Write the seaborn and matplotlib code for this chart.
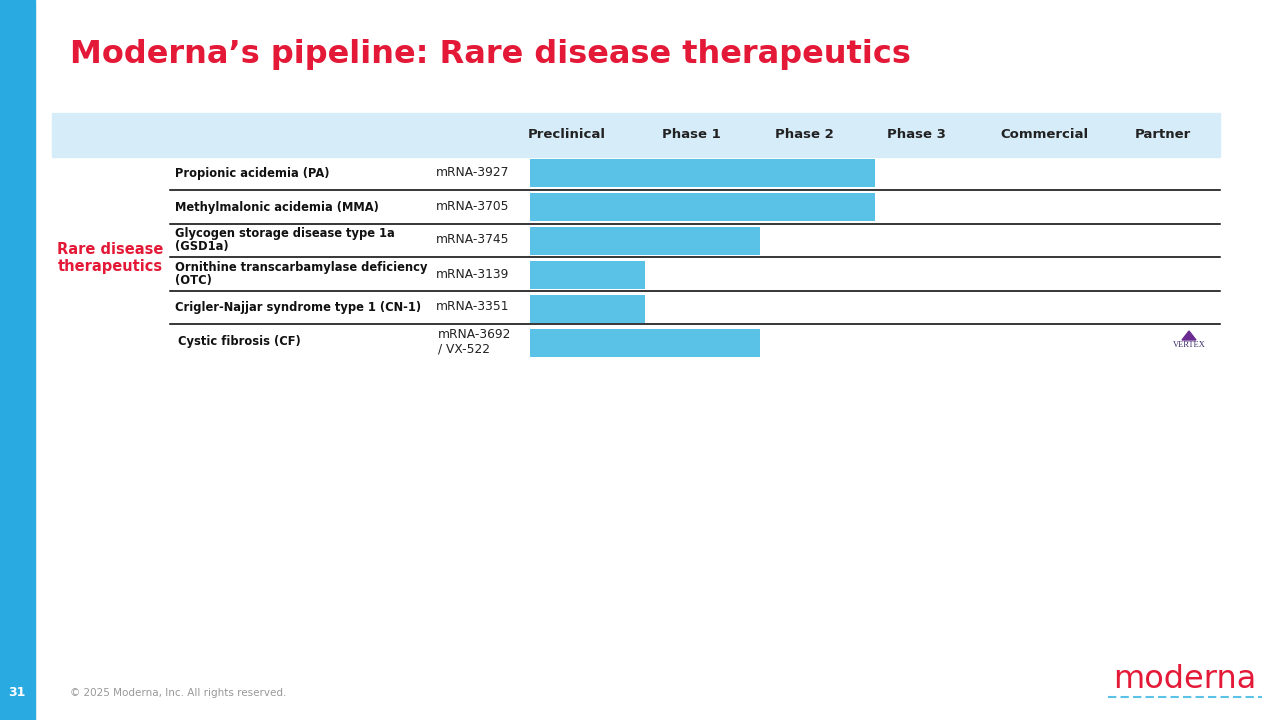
import matplotlib
matplotlib.use("Agg")
import pandas as pd
import seaborn as sns
from matplotlib import pyplot as plt
from matplotlib.patches import Rectangle, Polygon

# data
diseases = [
    "Propionic acidemia (PA)",
    "Methylmalonic acidemia (MMA)",
    "Glycogen storage disease type 1a\n(GSD1a)",
    "Ornithine transcarbamylase deficiency\n(OTC)",
    "Crigler-Najjar syndrome type 1 (CN-1)",
    "Cystic fibrosis (CF)",
]
programs = ["mRNA-3927", "mRNA-3705", "mRNA-3745", "mRNA-3139", "mRNA-3351", "mRNA-3692\n/ VX-522"]
stage_reached = [3, 3, 2, 1, 1, 2]  # 1 = preclinical, 2 = phase 1, 3 = phase 2
stages = ["Preclinical", "Phase 1", "Phase 2", "Phase 3", "Commercial", "Partner"]
partners = ["", "", "", "", "", "VERTEX"]

RED = "#e31937"
BLUE = "#5bc2e7"
W, H = 1280, 720

df = pd.DataFrame({"program": programs, "stage": stage_reached})

fig = plt.figure(figsize=(12.8, 7.2), dpi=100)
fig.patch.set_facecolor("white")


def px(x, y):
    return x / W, 1 - y / H


# left side strip and header band
fig.add_artist(Rectangle(px(0, 720), 35 / W, 1, transform=fig.transFigure, color="#29abe2"))
fig.add_artist(Rectangle(px(52, 157), (1220 - 52) / W, 44 / H, transform=fig.transFigure, color="#d6ecf8"))

fig.text(*px(70, 55), "Moderna\u2019s pipeline: Rare disease therapeutics", color=RED,
         fontsize=23, fontweight="bold", va="center", family="DejaVu Sans")

col_x = [567, 691, 804, 916, 1044, 1163]
for cx, s in zip(col_x, stages):
    fig.text(*px(cx, 135), s, fontsize=9.5, fontweight="bold", ha="center", va="center", color="#222222")

ax = fig.add_axes([528 / W, 1 - 358 / H, (1220 - 528) / W, (358 - 157) / H])
sns.barplot(data=df, x="stage", y="program", orient="h", color=BLUE, width=0.82,
            saturation=1, ax=ax)
ax.set_xlim(-0.02, 6)
ax.set_ylim(5.45, -0.47)
ax.axis("off")

row_y = [173, 207, 240, 274, 307, 342]
for i, (d, p, y) in enumerate(zip(diseases, programs, row_y)):
    fig.text(*px(175 if i < 5 else 178, y), d, fontsize=8.3, fontweight="bold", va="center",
             color="#111111", linespacing=0.95)
    fig.text(*px(436 if i < 5 else 438, y), p, fontsize=8.8, va="center", color="#222222",
             linespacing=1.15)
for ly in [190, 224, 257, 291, 324]:
    fig.add_artist(plt.Line2D([170 / W, 1220 / W], [1 - ly / H] * 2, color="black", lw=1.1,
                              transform=fig.transFigure))

fig.text(*px(110, 258), "Rare disease\ntherapeutics", color=RED, fontsize=10.5,
         fontweight="bold", ha="center", va="center", linespacing=1.2)

# partner logo
for y, p in zip(row_y, partners):
    if p:
        fig.add_artist(Polygon([px(1182, 340), px(1196, 340), px(1189, 331)], closed=True,
                               transform=fig.transFigure, color="#6b2c91"))
        fig.text(*px(1189, 345), p, fontsize=6, ha="center", va="center",
                 family="Liberation Serif", color="#3a2a6a")

fig.text(*px(17, 693), "31", color="white", fontsize=9, fontweight="bold", ha="center", va="center")
fig.text(*px(70, 693), "\u00a9 2025 Moderna, Inc. All rights reserved.", color="#999999",
         fontsize=7.5, va="center")
fig.text(*px(1185, 680), "moderna", color=RED, fontsize=23, ha="center", va="center")
fig.add_artist(plt.Line2D([1108 / W, 1262 / W], [1 - 697 / H] * 2, color=BLUE, lw=1.5,
                          ls=(0, (4, 2)), transform=fig.transFigure))

fig.savefig("out.png", dpi=100)
